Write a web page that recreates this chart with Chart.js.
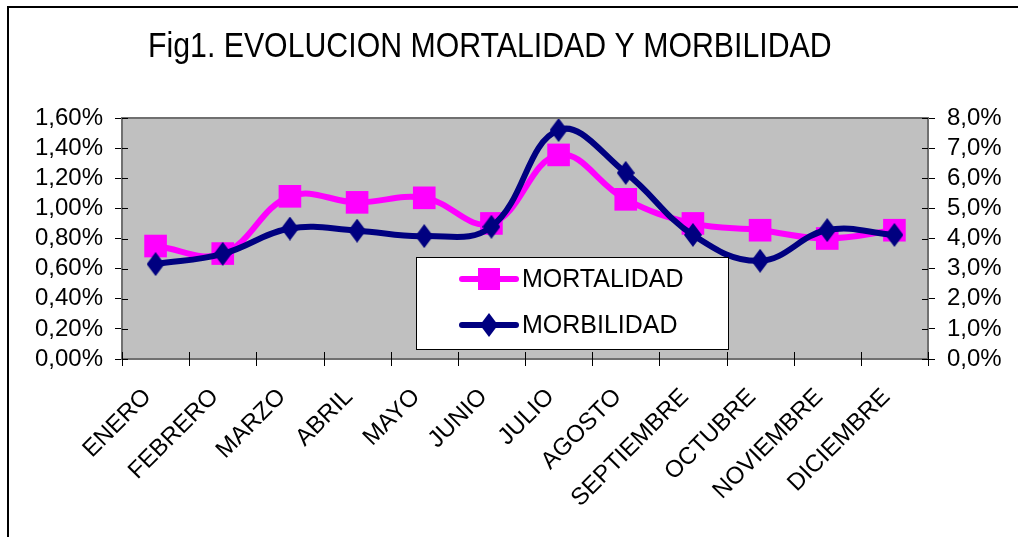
<!DOCTYPE html>
<html>
<head>
<meta charset="utf-8">
<script src="https://cdn.jsdelivr.net/npm/chart.js@4/dist/chart.umd.min.js"></script>
<style>
html,body{margin:0;padding:0;background:#fff;}
#wrap{position:relative;width:1018px;height:537px;}
</style>
</head>
<body>
<div id="wrap"><canvas id="c" width="1018" height="537"></canvas></div>
<script>
const TITLE = 'Fig1. EVOLUCION MORTALIDAD Y MORBILIDAD';
const months = ['ENERO','FEBRERO','MARZO','ABRIL','MAYO','JUNIO','JULIO','AGOSTO','SEPTIEMBRE','OCTUBRE','NOVIEMBRE','DICIEMBRE'];
const mortalidad = [0.75, 0.70, 1.08, 1.04, 1.07, 0.90, 1.355, 1.06, 0.90, 0.855, 0.80, 0.855];
const morbilidad = [3.15, 3.49, 4.33, 4.26, 4.08, 4.39, 7.60, 6.18, 4.12, 3.26, 4.28, 4.12];
const leftTicks = ['0,00%','0,20%','0,40%','0,60%','0,80%','1,00%','1,20%','1,40%','1,60%'];
const rightTicks = ['0,0%','1,0%','2,0%','3,0%','4,0%','5,0%','6,0%','7,0%','8,0%'];

const FONT = "'Liberation Sans', Arial, Helvetica, sans-serif";

function diamond(w, h, color){
  const cv = document.createElement('canvas');
  cv.width = w; cv.height = h;
  const g = cv.getContext('2d');
  g.fillStyle = color;
  g.beginPath();
  g.moveTo(w/2, 0); g.lineTo(w, h/2); g.lineTo(w/2, h); g.lineTo(0, h/2);
  g.closePath(); g.fill();
  return cv;
}
const diamondImg = diamond(18, 24, '#000080');

const frame = {
  id: 'frame',
  beforeDraw(chart){
    const ctx = chart.ctx;
    const a = chart.chartArea;
    ctx.save();
    ctx.fillStyle = '#c0c0c0';
    ctx.fillRect(a.left, a.top, a.right - a.left, a.bottom - a.top);
    ctx.strokeStyle = '#000';
    ctx.lineWidth = 2;
    ctx.beginPath();
    ctx.moveTo(8, 537); ctx.lineTo(8, 7); ctx.lineTo(1018, 7);
    ctx.stroke();
    // title
    ctx.fillStyle = '#000';
    ctx.font = '35px ' + FONT;
    ctx.textBaseline = 'alphabetic';
    ctx.translate(148, 57);
    ctx.scale(0.865, 1);
    ctx.fillText(TITLE, 0, 0);
    ctx.restore();
  },
  afterDatasetsDraw(chart){
    const ctx = chart.ctx;
    const a = chart.chartArea;
    ctx.save();
    // plot border
    ctx.strokeStyle = '#707070';
    ctx.lineWidth = 2;
    ctx.strokeRect(a.left, a.top, a.right - a.left, a.bottom - a.top);
    // inner tick parts
    ctx.strokeStyle = '#000';
    ctx.lineWidth = 1;
    const yl = chart.scales.y, yr = chart.scales.y2;
    ctx.beginPath();
    for (let i = 0; i < yl.ticks.length; i++){
      const py = Math.round(yl.getPixelForTick(i)) + 0.5;
      ctx.moveTo(a.left, py); ctx.lineTo(a.left + 6, py);
    }
    for (let i = 0; i < yr.ticks.length; i++){
      const py = Math.round(yr.getPixelForTick(i)) + 0.5;
      ctx.moveTo(a.right - 6, py); ctx.lineTo(a.right, py);
    }
    const n = months.length;
    for (let i = 0; i <= n; i++){
      const px = Math.round(a.left + (a.right - a.left) * i / n) + 0.5;
      ctx.moveTo(px, a.bottom - 7); ctx.lineTo(px, a.bottom + 7);
    }
    ctx.stroke();
    // legend
    const lx = 416, ly = 257, lw = 312, lh = 92;
    ctx.fillStyle = '#fff';
    ctx.fillRect(lx, ly, lw, lh);
    ctx.strokeStyle = '#000';
    ctx.lineWidth = 1;
    ctx.strokeRect(lx + 0.5, ly + 0.5, lw, lh);
    const items = [
      {label: chart.data.datasets[0].label, color: '#ff00ff', y: 279, mark: 'rect'},
      {label: chart.data.datasets[1].label, color: '#000080', y: 325, mark: 'diamond'}
    ];
    items.forEach(it => {
      ctx.strokeStyle = it.color;
      ctx.lineWidth = 6;
      ctx.lineCap = 'round';
      ctx.beginPath(); ctx.moveTo(462, it.y); ctx.lineTo(516, it.y); ctx.stroke();
      if (it.mark === 'rect'){
        ctx.fillStyle = it.color;
        ctx.fillRect(489 - 11, it.y - 11, 22, 22);
      } else {
        ctx.drawImage(diamondImg, 489 - 9, it.y - 12);
      }
      ctx.fillStyle = '#000';
      ctx.font = '25px ' + FONT;
      ctx.textBaseline = 'middle';
      ctx.fillText(it.label, 522, it.y + 1);
    });
    ctx.restore();
  }
};

new Chart(document.getElementById('c'), {
  type: 'line',
  data: {
    labels: months,
    datasets: [
      {
        label: 'MORTALIDAD',
        data: mortalidad,
        yAxisID: 'y',
        borderColor: '#ff00ff',
        backgroundColor: '#ff00ff',
        borderWidth: 6,
        tension: 0.4,
        pointStyle: 'rect',
        pointRadius: 16,
        pointHoverRadius: 16,
        pointBorderWidth: 0,
        order: 2
      },
      {
        label: 'MORBILIDAD',
        data: morbilidad,
        yAxisID: 'y2',
        borderColor: '#000080',
        backgroundColor: '#000080',
        borderWidth: 6,
        tension: 0.4,
        pointStyle: diamondImg,
        pointRadius: 12,
        pointBorderWidth: 0,
        order: 1
      }
    ]
  },
  options: {
    responsive: false,
    animation: false,
    events: [],
    layout: { padding: { top: 118, left: 0, right: 0, bottom: 0 } },
    plugins: { legend: { display: false }, title: { display: false }, tooltip: { enabled: false } },
    scales: {
      x: {
        offset: true,
        grid: { display: false, drawOnChartArea: false },
        border: { display: false },
        ticks: {
          color: '#000',
          font: { family: FONT, size: 24 },
          maxRotation: 45, minRotation: 45,
          autoSkip: false,
          padding: 16,
          labelOffset: -8
        },
        afterFit(s){ s.height = 537 - 359; }
      },
      y: {
        position: 'left',
        min: 0, max: 1.6,
        grid: { drawOnChartArea: false, color: '#000', tickLength: 7, tickWidth: 1 },
        border: { display: false },
        ticks: {
          stepSize: 0.2,
          autoSkip: false,
          color: '#000',
          font: { family: FONT, size: 24 },
          padding: 12,
          callback: (v, i) => leftTicks[i]
        },
        afterFit(s){ s.width = 122; }
      },
      y2: {
        position: 'right',
        min: 0, max: 8,
        grid: { drawOnChartArea: false, color: '#000', tickLength: 7, tickWidth: 1 },
        border: { display: false },
        ticks: {
          stepSize: 1,
          autoSkip: false,
          color: '#000',
          font: { family: FONT, size: 24 },
          padding: 12,
          callback: (v, i) => rightTicks[i]
        },
        afterFit(s){ s.width = 1018 - 928; }
      }
    }
  },
  plugins: [frame]
});
</script>
</body>
</html>
